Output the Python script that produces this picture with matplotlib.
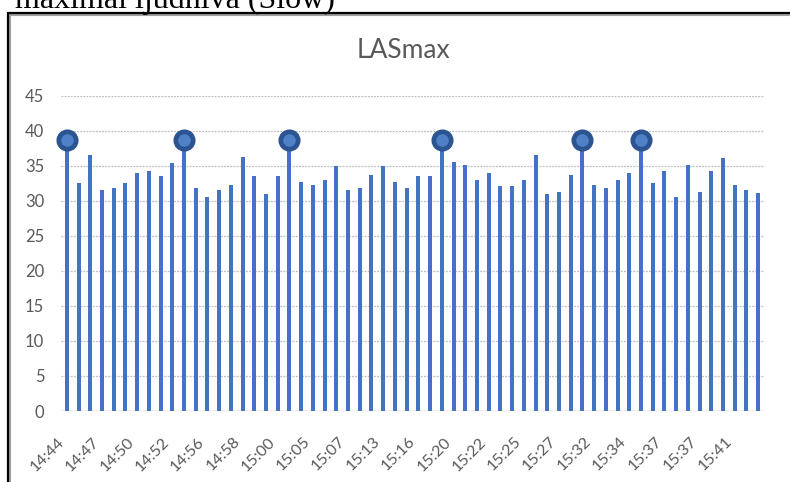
import matplotlib.pyplot as plt
import matplotlib.transforms as mtransforms
from matplotlib.patches import Rectangle

# LASmax per measurement interval
values = [38.7, 32.5, 36.5, 31.5, 31.8, 32.5, 33.9, 34.2, 33.5, 35.4,
          38.7, 31.8, 30.6, 31.5, 32.2, 36.3, 33.5, 30.9, 33.5, 38.7,
          32.7, 32.2, 33.0, 34.9, 31.5, 31.8, 33.7, 34.9, 32.7, 31.8,
          33.5, 33.5, 38.7, 35.6, 35.1, 33.0, 33.9, 32.1, 32.1, 33.0,
          36.5, 30.9, 31.3, 33.7, 38.7, 32.2, 31.8, 33.0, 33.9, 38.7,
          32.5, 34.2, 30.6, 35.1, 31.3, 34.2, 36.1, 32.2, 31.5, 31.1]
peaks = [0, 10, 19, 32, 44, 49]
time_labels = ['14:44', '14:47', '14:50', '14:52', '14:56', '14:58', '15:00',
               '15:05', '15:07', '15:13', '15:16', '15:20', '15:22', '15:25',
               '15:27', '15:32', '15:34', '15:37', '15:37', '15:41']
yticks = [0, 5, 10, 15, 20, 25, 30, 35, 40, 45]

grey = '#595959'
plt.rcParams['font.family'] = ['Lato', 'DejaVu Sans']

fig = plt.figure(figsize=(7.9, 4.82), dpi=100)
W, H = 790, 482

# caption line from the document, cut by the top edge
fig.text(335 / W, 1 - 8 / H, 'maximal ljudnivå (Slow)', ha='right', va='baseline',
         fontsize=23, family='Liberation Serif', color='black')

# chart frame with a soft shadow
fig.patches.append(Rectangle((10 / W, -0.2), 1.2, 1.2 - 15 / H,
                             transform=fig.transFigure, fill=False,
                             edgecolor='#a0a0a0', linewidth=1.5, zorder=0))
fig.patches.append(Rectangle((8 / W, -0.2), 1.2, 1.2 - 13 / H,
                             transform=fig.transFigure, fill=False,
                             edgecolor='black', linewidth=1.6, zorder=1))

ax = fig.add_axes([61 / W, 71 / H, 703 / W, 315.3 / H])
x = list(range(len(values)))
ax.bar(x, values, width=0.34, color='#4472C4', zorder=3)
ax.plot(peaks, [values[i] for i in peaks], linestyle='none', marker='o',
        markersize=12.5, markerfacecolor='#4F81C7', markeredgecolor='#2C5490',
        markeredgewidth=3.4, zorder=4, clip_on=False)

ax.set_xlim(-0.5, len(values) - 0.5)
ax.set_ylim(0, 45)
ax.set_yticks(yticks)
ax.set_yticklabels([str(v) for v in yticks])
ax.yaxis.grid(True, color='#bfbfbf', linestyle=(0, (1.5, 1)), linewidth=0.9, zorder=0)
ax.set_axisbelow(True)
for s in ax.spines.values():
    s.set_visible(False)
ax.axhline(0, color='#bfbfbf', linewidth=1.0, zorder=2)

ax.set_xticks(x[::3])
ax.set_xticklabels(time_labels, rotation=45, ha='right', va='top')
shift = mtransforms.ScaledTranslation(5 / 100, 0, fig.dpi_scale_trans)
for lab in ax.get_xticklabels():
    lab.set_transform(lab.get_transform() + shift)

ax.tick_params(axis='y', length=0, pad=12, labelsize=12, labelcolor=grey)
ax.tick_params(axis='x', length=0, pad=17, labelsize=11.5, labelcolor=grey)

fig.text(403 / W, 1 - 51 / H, 'LASmax', ha='center', va='center',
         fontsize=19, color=grey)

fig.savefig('out.png', dpi=100)
